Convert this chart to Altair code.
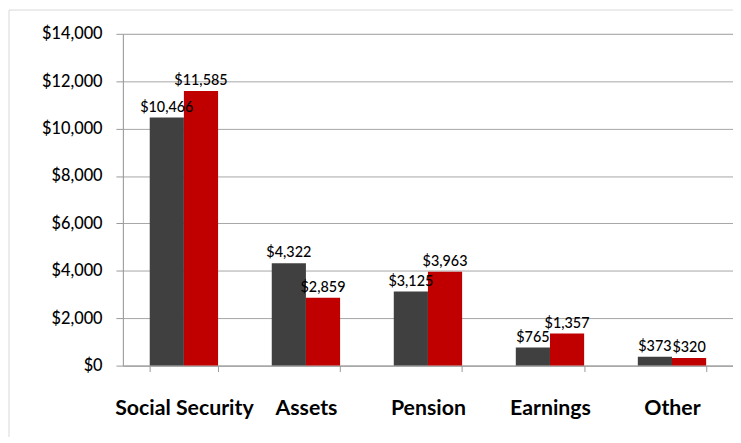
import altair as alt
import pandas as pd

categories = ["Social Security", "Assets", "Pension", "Earnings", "Other"]
series_names = ["Series 1", "Series 2"]
series1 = [10466, 4322, 3125, 765, 373]
series2 = [11585, 2859, 3963, 1357, 320]
colors = ["#404040", "#C00000"]

rows = []
for c, a, b in zip(categories, series1, series2):
    rows.append({"cat": c, "series": series_names[0], "value": a,
                 "label": "${:,}".format(a)})
    rows.append({"cat": c, "series": series_names[1], "value": b,
                 "label": "${:,}".format(b)})
df = pd.DataFrame(rows)

FONT = "Lato"

x = alt.X("cat:N", sort=categories, title=None,
          scale=alt.Scale(paddingInner=0.44, paddingOuter=0.22),
          axis=alt.Axis(labelAngle=0, labelFontSize=21.5, labelFontWeight="bold",
                        labelColor="#000000", labelFont=FONT, labelPadding=26,
                        tickBand="extent", tickSize=6, tickColor="#999999",
                        domainColor="#999999", grid=False))
y = alt.Y("value:Q", title=None,
          scale=alt.Scale(domain=[0, 14000], nice=False),
          axis=alt.Axis(values=list(range(0, 14001, 2000)), format="$,.0f",
                        labelFontSize=16.5, labelColor="#000000", labelFont=FONT,
                        labelFontWeight=500,
                        labelPadding=14, tickSize=7, tickColor="#999999",
                        domainColor="#999999", gridColor="#a6a6a6"))
xo = alt.XOffset("series:N", sort=series_names)
color = alt.Color("series:N", sort=series_names,
                  scale=alt.Scale(domain=series_names, range=colors), legend=None)

base = alt.Chart(df)
bars = base.mark_bar().encode(x=x, y=y, xOffset=xo, color=color)
labels = base.mark_text(baseline="bottom", dy=-3, fontSize=14.5, font=FONT,
                        fontWeight=500, color="#000000").encode(
    x=x, y=y, xOffset=xo, text="label:N")

frame_top = alt.Chart(pd.DataFrame({"k": [0]})).mark_rule(
    color="#d9d9d9", strokeWidth=1).encode(
    x=alt.value(-115), x2=alt.value(700), y=alt.value(-24))
frame_left = alt.Chart(pd.DataFrame({"k": [0]})).mark_rule(
    color="#d9d9d9", strokeWidth=1).encode(
    x=alt.value(-115), y=alt.value(-24), y2=alt.value(420))

chart = alt.layer(frame_top, frame_left, bars, labels).properties(
    width=616, height=335,
    autosize=alt.AutoSizeParams(type="none"),
    padding={"left": 116, "top": 24, "right": 0, "bottom": 70},
).configure_view(stroke=None).configure(background="#ffffff")

chart.save("out.html", embed_options={"renderer": "svg", "actions": False})
